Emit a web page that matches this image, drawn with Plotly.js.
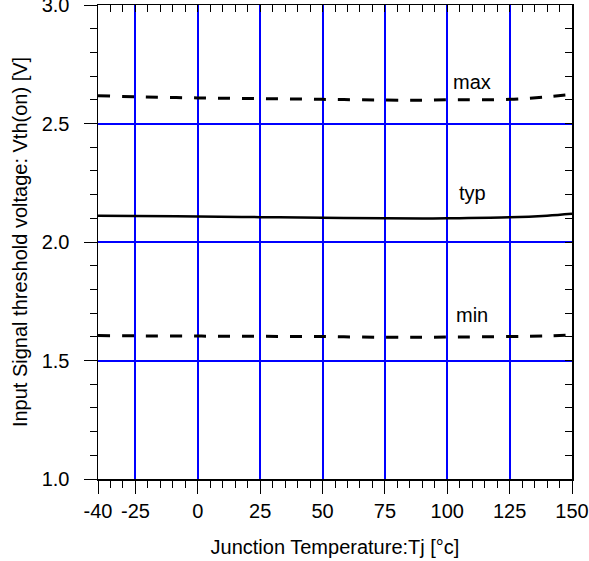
<!DOCTYPE html>
<html>
<head>
<meta charset="utf-8">
<script src="https://cdn.plot.ly/plotly-3.0.1.min.js"></script>
<style>html,body{margin:0;padding:0;background:#fff;}#chart{width:589px;height:561px;}</style>
</head>
<body>
<div id="chart"></div>
<script>
const tempC = [-40, -25, 0, 25, 50, 75, 90, 100, 125, 140, 150];
const vthMax = [2.617, 2.613, 2.608, 2.605, 2.602, 2.599, 2.598, 2.600, 2.602, 2.613, 2.623];
const vthTyp = [2.111, 2.110, 2.108, 2.105, 2.102, 2.100, 2.099, 2.100, 2.104, 2.111, 2.119];
const vthMin = [1.605, 1.604, 1.603, 1.602, 1.601, 1.598, 1.598, 1.599, 1.601, 1.604, 1.608];
const xTickVals = [-40, -25, 0, 25, 50, 75, 100, 125, 150];
const xTickText = ['-40', '-25', '0', '25', '50', '75', '100', '125', '150'];
const yTickVals = [1.0, 1.5, 2.0, 2.5, 3.0];
const yTickText = ['1.0', '1.5', '2.0', '2.5', '3.0'];
const labels = ['max', 'typ', 'min'];
const labelX = [110, 110, 110];
const labelY = [2.675, 2.208, 1.693];

const font = {family: 'Liberation Sans, Arial, sans-serif', size: 20, color: '#000'};
const lineStyle = (dash, w) => ({color: '#000', width: w, dash: dash, shape: 'spline'});

const traces = [
  {x: tempC, y: vthMax, mode: 'lines', line: lineStyle('12px,12px', 3), hoverinfo: 'skip'},
  {x: tempC, y: vthTyp, mode: 'lines', line: lineStyle('solid', 2.5), hoverinfo: 'skip'},
  {x: tempC, y: vthMin, mode: 'lines', line: lineStyle('12px,12px', 3), hoverinfo: 'skip'},
  {x: [-40], y: [1], xaxis: 'x2', yaxis: 'y2', mode: 'markers', marker: {opacity: 0}, hoverinfo: 'skip'}
];

const layout = {
  width: 589, height: 561,
  margin: {l: 98, r: 17, t: 5, b: 82},
  paper_bgcolor: '#fff', plot_bgcolor: '#fff',
  showlegend: false,
  font: font,
  xaxis: {
    range: [-40, 150], tickmode: 'array', tickvals: xTickVals, ticktext: xTickText,
    ticks: 'outside', ticklen: 13, tickwidth: 1, tickcolor: '#000',
    showline: true, linecolor: '#000', linewidth: 1.5,
    showgrid: true, gridcolor: '#0000ff', gridwidth: 2,
    zeroline: false, tickfont: font, ticklabelstandoff: 0, ticklabeloverflow: 'allow',
    minor: {tickmode: 'linear', tick0: -40, dtick: 5, ticks: 'outside', ticklen: 7, tickcolor: '#000', tickwidth: 1, showgrid: false},
    title: {text: 'Junction Temperature:Tj [°c]', font: font, standoff: 19}
  },
  yaxis: {
    range: [1.0, 3.0001], tickmode: 'array', tickvals: yTickVals, ticktext: yTickText,
    ticks: 'outside', ticklen: 13, tickwidth: 1, tickcolor: '#000',
    showline: true, linecolor: '#000', linewidth: 1.5,
    showgrid: true, gridcolor: '#0000ff', gridwidth: 2,
    zeroline: false, tickfont: font, ticklabelstandoff: 10, ticklabeloverflow: 'allow',
    minor: {tickmode: 'linear', tick0: 1.0, dtick: 0.1, ticks: 'outside', ticklen: 7, tickcolor: '#000', tickwidth: 1, showgrid: false},
    title: {text: 'Input Signal threshold voltage: Vth(on) [V]', font: font, standoff: 8}
  },
  xaxis2: {
    overlaying: 'x', side: 'top', range: [-40, 150], tickmode: 'linear', tick0: -40, dtick: 5,
    ticks: 'inside', ticklen: 7, tickwidth: 1, tickcolor: '#000', showticklabels: false,
    showline: true, linecolor: '#000', linewidth: 1.5, showgrid: false, zeroline: false
  },
  yaxis2: {
    overlaying: 'y', side: 'right', range: [1.0, 3.0001], tickmode: 'linear', tick0: 1.0, dtick: 0.1,
    ticks: 'inside', ticklen: 7, tickwidth: 1, tickcolor: '#000', showticklabels: false,
    showline: true, linecolor: '#000', linewidth: 1.5, showgrid: false, zeroline: false
  },
  annotations: labels.map((t, i) => ({
    x: labelX[i], y: labelY[i], xref: 'x', yref: 'y', text: t, showarrow: false, font: font
  }))
};

Plotly.newPlot('chart', traces, layout, {staticPlot: true, displayModeBar: false});
</script>
</body>
</html>
